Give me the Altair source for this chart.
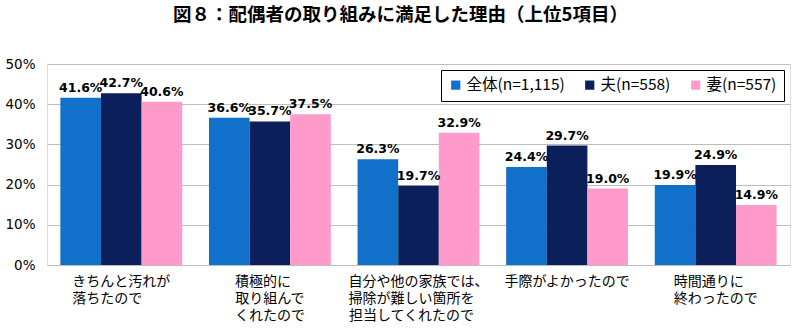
import altair as alt
import pandas as pd

WJ = "\u2060"
categories = [
    "きちんと汚れが\n落ちたので　　" + WJ,
    "積極的に　" + WJ + "\n取り組んで\nくれたので",
    "自分や他の家族では、\n掃除が難しい箇所を　" + WJ + "\n担当してくれたので　" + WJ,
    "手際がよかったので",
    "時間通りに　" + WJ + "\n終わったので",
]
series = ["全体(n=1,115)", "夫(n=558)", "妻(n=557)"]
v_all = [41.6, 36.6, 26.3, 24.4, 19.9]
v_husband = [42.7, 35.7, 19.7, 29.7, 24.9]
v_wife = [40.6, 37.5, 32.9, 19.0, 14.9]
colors = ["#1170c9", "#0b1f5b", "#ff9bcb"]

rows = []
for s, vals in zip(series, [v_all, v_husband, v_wife]):
    for c, v in zip(categories, vals):
        rows.append({"cat": c, "series": s, "value": v / 100, "label": f"{v:.1f}%"})
df = pd.DataFrame(rows)

x = alt.X("cat:N", sort=categories, title=None,
          scale=alt.Scale(paddingInner=0.18, paddingOuter=0.09),
          axis=alt.Axis(labelAngle=0, labelExpr="split(datum.value, '\\n')",
                        labelFontSize=14, labelColor="#000", labelFont="Noto Sans CJK JP",
                        labelLineHeight=17, labelPadding=9, ticks=False, domain=False,
                        labelBaseline="top"))
xo = alt.XOffset("series:N", sort=series)
y = alt.Y("value:Q", title=None,
          scale=alt.Scale(domain=[0, 0.5]),
          axis=alt.Axis(format=".0%", values=[0, 0.1, 0.2, 0.3, 0.4, 0.5],
                        labelFontSize=13.5, labelColor="#000", labelFont="DejaVu Sans",
                        labelPadding=12, ticks=False, domain=False,
                        gridColor="#bdbdbd", gridWidth=1.2))

bars = alt.Chart(df).mark_bar(strokeWidth=0.6).encode(
    x=x, xOffset=xo, y=y,
    color=alt.Color("series:N", sort=series, title=None,
                    scale=alt.Scale(domain=series, range=colors),
                    legend=alt.Legend(orient="none", legendX=394, legendY=6,
                                      direction="horizontal", symbolType="square",
                                      symbolSize=85, labelFontSize=15.5,
                                      labelFont="Noto Sans CJK JP", labelColor="#000",
                                      strokeColor="#000", fillColor="#fff",
                                      padding=7, columnPadding=17, symbolStrokeWidth=0,
                                      labelOffset=3)),
)

labels = alt.Chart(df).mark_text(dy=-3, baseline="bottom", fontSize=12.5,
                                 fontWeight="bold", font="DejaVu Sans", color="#000").encode(
    x=alt.X("cat:N", sort=categories), xOffset=xo, y="value:Q", text="label:N"
)

chart = (bars + labels).properties(
    width=743, height=201,
    title=alt.TitleParams("図８：配偶者の取り組みに満足した理由（上位5項目）",
                          fontSize=18.5, font="Noto Sans CJK JP", fontWeight="bold",
                          color="#000", anchor="middle", offset=33, dx=-18),
    padding={"left": 47, "top": 64, "right": 10, "bottom": 67},
    autosize=alt.AutoSizeParams(type="none"),
).configure_view(stroke="#b5b5b5", strokeWidth=1.2).configure(background="#ffffff")

chart.save("out.html", embed_options={"renderer": "svg", "actions": False})
